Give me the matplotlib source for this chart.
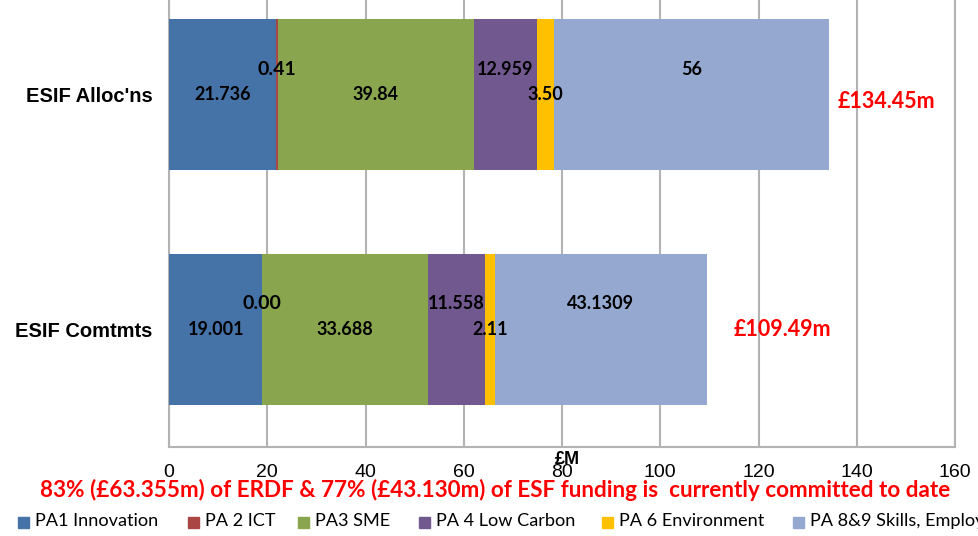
import numpy as np
import matplotlib
matplotlib.use("Agg")
import matplotlib.pyplot as plt
from matplotlib.patches import Rectangle

categories = ["ESIF Comtmts", "ESIF Alloc'ns"]
series = ["PA1 Innovation", "PA 2 ICT", "PA3 SME", "PA 4 Low Carbon",
          "PA 6 Environment", "PA 8&9 Skills, Employment"]
# values per series: [Comtmts, Alloc'ns]
values = [
    [19.001, 21.736],
    [0.0, 0.41],
    [33.688, 39.84],
    [11.558, 12.959],
    [2.11, 3.50],
    [43.1309, 56.0],
]
value_labels = [
    ["19.001", "21.736"],
    ["0.00", "0.41"],
    ["33.688", "39.84"],
    ["11.558", "12.959"],
    ["2.11", "3.50"],
    ["43.1309", "56"],
]
totals = ["£109.49m", "£134.45m"]
footnote = "83% (£63.355m) of ERDF & 77% (£43.130m) of ESF funding is  currently committed to date"
colors = ["#4572A7", "#AA4643", "#89A54E", "#71588F", "#FFC000", "#95A9D0"]

W, H = 979, 536
fig = plt.figure(figsize=(W / 100, H / 100), dpi=100)
ax = fig.add_axes([169 / W, 1 - 447 / H, 786 / W, 447 / H])

y = np.arange(len(categories))
left = np.zeros(len(categories))
# every second series has its labels raised, as in the original
raise_label = [0, 1, 0, 1, 0, 1]
label_size = [13, 14, 13, 13, 13, 13]
for i, (name, vals) in enumerate(zip(series, values)):
    vals = np.array(vals)
    ax.barh(y, vals, left=left, height=0.643, color=colors[i], label=name, zorder=3)
    for j in range(len(categories)):
        cx = left[j] + vals[j] / 2
        cy = y[j] + 0.11 * raise_label[i]
        ax.text(cx, cy, value_labels[i][j], ha="center", va="center",
                fontsize=label_size[i], fontweight="bold",
                family=["Lato", "DejaVu Sans"], zorder=4)
    left += vals

tot_offsets = [(19, 0), (6, -5)]
for j in range(len(categories)):
    ax.annotate(totals[j], (left[j], y[j]), xytext=tot_offsets[j],
                textcoords="offset points", ha="left", va="center",
                color="red", fontsize=15.5, fontweight="bold",
                family=["Lato", "DejaVu Sans"])

ax.set_xlim(0, 160)
ax.set_ylim(-0.5, 1 + 95 / 235)
ax.set_xticks(np.arange(0, 161, 20))
ax.set_yticks(y)
ax.set_yticklabels(categories, fontsize=14.5, fontweight="bold",
                   family="Liberation Sans")
ax.tick_params(axis="y", length=0, pad=12)
ax.tick_params(axis="x", length=0, pad=12, labelsize=14)
for lab in ax.get_xticklabels():
    lab.set_family("Liberation Sans")
ax.grid(axis="x", color="#B3B3B3", linewidth=1.5, zorder=0)
ax.spines["top"].set_visible(False)
for s in ["left", "bottom", "right"]:
    ax.spines[s].set_color("#B3B3B3")
    ax.spines[s].set_linewidth(1.5)

fig.text(567 / W, 1 - 460 / H, "£M", ha="center", va="center",
         fontsize=13, fontweight="bold", family="Liberation Sans")
fig.text(495 / W, 1 - 490 / H, footnote, ha="center", va="center",
         color="red", fontsize=16.2, fontweight="bold",
         family=["Lato", "DejaVu Sans"])

# legend laid out by hand to match the original's spacing
legend_x = [18, 188, 298, 419, 602, 793]
for c, name, lx in zip(colors, series, legend_x):
    fig.patches.append(Rectangle((lx / W, 1 - 528 / H), 11 / W, 11 / H,
                                 color=c, transform=fig.transFigure, figure=fig))
    fig.text((lx + 17) / W, 1 - 521 / H, name, ha="left", va="center",
             fontsize=13.1, family=["Lato", "DejaVu Sans"])

fig.savefig("out.png", dpi=100)
